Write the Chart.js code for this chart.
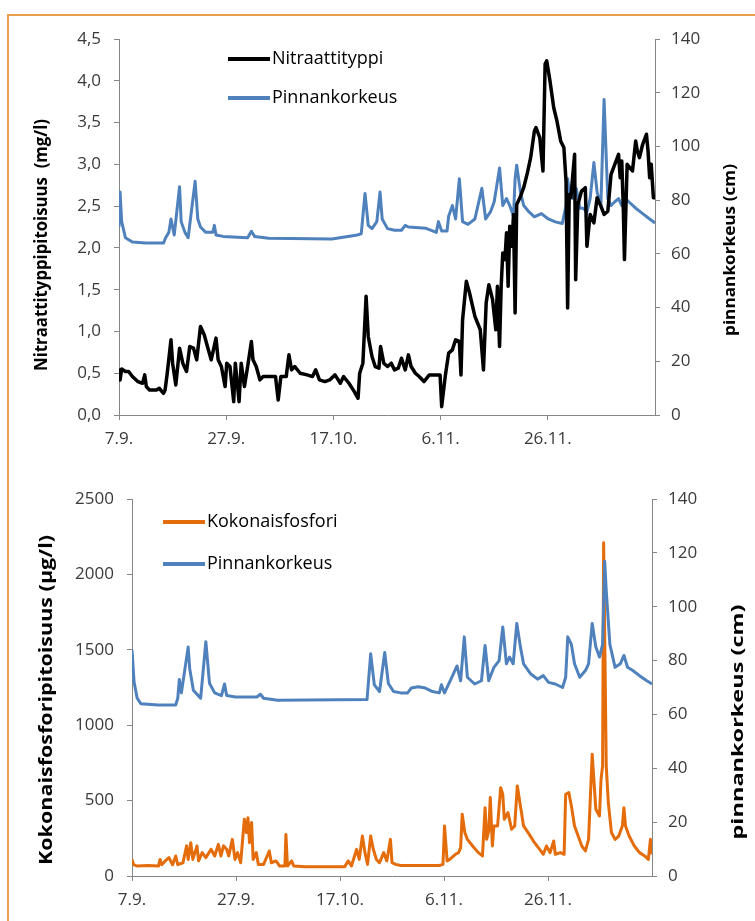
<!DOCTYPE html>
<html>
<head>
<meta charset="utf-8">
<script src="https://cdn.jsdelivr.net/npm/chart.js@4.4.1/dist/chart.umd.min.js"></script>
<style>
  body { margin: 0; background: #fff; }
  #page { position: relative; width: 755px; height: 921px; overflow: hidden; background: #fff; }
  #frame { position: absolute; left: 7px; top: 14px; width: 800px; height: 960px; border: 2px solid #E8A04C; box-sizing: border-box; }
  canvas { position: absolute; left: 0; }
</style>
</head>
<body>
<div id="page">
  <div id="frame"></div>
  <canvas id="nitrateChart" width="755" height="470" style="top:0px"></canvas>
  <canvas id="phosphorusChart" width="755" height="451" style="top:470px"></canvas>
</div>
<script>
// x = days from 7.9.
const xTickDays = [0, 20, 40, 60, 80];
const xTickLabels = ["7.9.", "27.9.", "17.10.", "6.11.", "26.11."];

// Nitraattityppi (mg/l)
const nitrate = [[0,0.56],[0.2,0.42],[0.5,0.55],[1.2,0.52],[1.8,0.52],[2.5,0.46],[3.5,0.4],[4.4,0.38],[4.8,0.48],[5.1,0.34],[5.7,0.3],[7.0,0.3],[7.5,0.32],[8.3,0.26],[8.6,0.3],[9.0,0.5],[9.7,0.9],[10.0,0.62],[10.6,0.36],[11.3,0.8],[11.9,0.62],[12.6,0.52],[13.2,0.82],[13.9,0.8],[14.5,0.66],[15.2,1.06],[15.9,0.96],[16.5,0.82],[17.2,0.66],[18.1,0.92],[18.5,0.66],[19.1,0.58],[19.8,0.34],[20.1,0.62],[20.7,0.58],[21.4,0.16],[21.7,0.62],[22.4,0.16],[22.8,0.62],[23.4,0.34],[24.0,0.58],[24.7,0.88],[25.0,0.66],[25.6,0.58],[26.3,0.42],[26.9,0.46],[27.9,0.46],[29.2,0.46],[29.7,0.18],[30.2,0.46],[31.2,0.46],[31.7,0.72],[32.2,0.54],[32.8,0.58],[33.8,0.5],[35.1,0.48],[36.1,0.46],[36.7,0.54],[37.4,0.42],[38.4,0.4],[39.3,0.42],[40.3,0.48],[41.3,0.38],[41.9,0.46],[42.9,0.38],[43.9,0.28],[44.6,0.2],[44.9,0.5],[45.5,0.62],[46.1,1.42],[46.5,0.94],[47.2,0.7],[47.8,0.58],[48.5,0.56],[48.8,0.82],[49.4,0.62],[50.1,0.58],[50.8,0.62],[51.4,0.54],[52.1,0.56],[52.7,0.68],[53.4,0.54],[54.0,0.72],[54.5,0.58],[55.3,0.5],[56.0,0.46],[56.9,0.4],[57.9,0.48],[59.9,0.48],[60.2,0.1],[60.9,0.48],[61.5,0.74],[62.2,0.78],[62.8,0.9],[63.5,0.88],[63.8,0.48],[64.1,1.14],[64.8,1.6],[65.4,1.46],[66.4,1.18],[67.4,1.02],[68.0,0.54],[68.5,1.34],[69.0,1.56],[69.7,1.38],[70.3,1.02],[70.6,1.54],[71.0,0.82],[71.3,1.54],[71.6,1.94],[72.0,1.86],[72.3,2.18],[72.6,1.54],[72.9,2.26],[73.3,2.02],[73.6,2.4],[73.9,1.22],[74.2,2.52],[74.8,2.6],[75.5,2.72],[76.2,2.9],[76.8,3.08],[77.5,3.4],[77.8,3.44],[78.5,3.32],[79.1,2.92],[79.5,4.2],[79.8,4.24],[80.4,4.0],[81.1,3.68],[81.7,3.52],[82.4,3.28],[83.0,3.2],[83.4,2.8],[83.7,1.28],[84.0,2.64],[84.3,2.6],[85.0,3.12],[85.2,1.62],[85.6,2.52],[86.3,2.68],[87.0,2.72],[87.3,2.02],[87.9,2.4],[88.6,2.3],[89.2,2.6],[89.9,2.5],[90.5,2.4],[91.2,2.44],[91.8,2.88],[92.5,3.0],[93.2,3.12],[93.5,2.84],[93.8,3.04],[94.1,2.44],[94.3,1.86],[94.8,3.0],[95.8,2.92],[96.4,3.28],[96.7,3.16],[97.1,3.08],[97.7,3.24],[98.4,3.36],[98.7,3.16],[99.0,2.84],[99.3,3.0],[99.7,2.6],[100,2.6]];

// Pinnankorkeus (cm), upper chart
const levelTop = [[0,70],[0.2,83],[0.5,72],[1.2,66],[2.5,64.4],[5,64],[8.3,64],[8.7,66],[9.3,68],[9.7,73],[10.3,67],[11.3,85],[11.6,72],[12.3,68],[12.9,66],[14.2,87],[14.7,73],[15.2,70],[16.2,68],[17.5,68],[17.8,70.6],[18.1,67],[19.4,66.5],[24.0,66],[24.7,68.4],[25.3,66.5],[27.9,65.8],[39.7,65.5],[44.2,66.9],[45.2,67.5],[45.9,82.5],[46.5,70.6],[47.2,69.4],[48.1,72],[48.7,83],[49.1,73],[50.1,69.4],[51.4,68.8],[52.7,68.8],[53.4,70.6],[54.0,70],[57.3,69.5],[57.9,69],[59.2,68],[59.6,72],[60.2,68.5],[61.2,68.5],[61.5,74],[62.2,78],[62.8,73],[63.5,88],[64.1,72],[65.1,71],[66.4,73],[67.7,84.4],[68.4,73],[69.3,75.6],[70.0,79.4],[71.0,92],[71.6,78],[72.3,80.6],[72.9,78],[73.6,74],[73.9,88],[74.2,93],[74.9,83],[75.5,78],[76.5,75.6],[77.5,73.8],[78.8,75],[80.1,73],[81.4,71.9],[82.7,71.3],[83.4,78],[83.7,88],[84.0,83],[84.7,80.6],[85.3,84.4],[86.0,77],[86.6,77],[87.3,75.6],[87.9,80.6],[88.6,94],[89.2,83],[89.9,78],[90.5,117.5],[90.9,96],[91.2,80.6],[91.8,78],[92.5,79.4],[93.2,80.6],[93.8,78],[94.5,80.6],[95.1,79.4],[96.4,77],[97.7,75],[99.0,73],[100,71.5]];

// Kokonaisfosfori (µg/l)
const phosphorus = [[0,110],[0.3,75],[1.0,66],[3,70],[5.1,66],[5.4,110],[5.7,75],[6.4,100],[7.1,122],[7.8,75],[8.4,133],[8.8,75],[9.8,88],[10.5,200],[10.8,110],[11.3,221],[11.7,110],[12.5,200],[12.8,100],[13.5,155],[14.2,122],[15.2,177],[15.9,133],[16.6,210],[17.1,133],[17.6,200],[18.2,177],[18.6,133],[19.3,243],[19.8,110],[20.3,155],[20.9,88],[21.6,376],[22.0,288],[22.3,387],[22.6,221],[23.0,354],[23.3,110],[23.9,155],[24.3,77],[25.3,77],[26.4,166],[26.8,88],[27.7,100],[28.4,66],[29.4,66],[29.6,276],[29.9,66],[30.7,100],[31.1,66],[33.4,62],[40.9,62],[41.6,100],[42.2,66],[43.2,177],[43.7,110],[44.3,265],[44.8,155],[45.3,77],[45.9,265],[46.4,177],[47.0,110],[47.6,88],[48.4,155],[49.0,100],[49.7,243],[50.0,88],[50.7,77],[51.7,70],[59.1,70],[59.8,77],[60.1,332],[60.6,100],[61.1,110],[62.2,144],[62.8,155],[63.2,188],[63.5,409],[64.0,288],[64.5,243],[65.5,199],[66.6,155],[67.4,133],[67.9,453],[68.2,243],[68.6,299],[68.9,520],[69.3,199],[69.6,332],[70.3,332],[70.9,586],[71.3,542],[71.6,376],[72.3,420],[73.0,310],[73.6,332],[74.1,597],[74.7,464],[75.3,332],[76.4,276],[77.4,221],[78.4,177],[79.1,144],[79.7,199],[80.4,155],[81.1,232],[81.4,144],[82.4,155],[83.1,144],[83.4,542],[84.0,553],[84.5,464],[85.1,332],[85.8,265],[86.5,199],[87.2,166],[87.8,243],[88.5,807],[89.2,442],[89.9,398],[90.2,641],[90.5,730],[90.7,2210],[91.2,730],[91.6,487],[92.2,288],[92.9,243],[93.6,265],[94.3,332],[94.6,453],[94.9,332],[95.6,265],[96.6,199],[97.6,155],[98.6,133],[99.3,110],[99.7,243],[100,144]];

// Pinnankorkeus (cm), lower chart
const levelBottom = [[0,84],[0.4,72],[1.0,66],[1.7,64],[5,63.5],[8.4,63.5],[8.8,66],[9.1,73],[9.5,68],[10.8,85],[11.1,77],[11.8,69],[13.2,66],[14.2,87],[14.9,71.6],[15.9,68],[17.2,67],[17.8,71.3],[18.2,67],[19.9,66.5],[24.0,66.5],[24.7,67.5],[25.3,66],[28.0,65.3],[45.2,65.5],[45.9,82.5],[46.6,71],[47.6,68.5],[48.6,83],[49.3,71.5],[50.3,68.5],[51.7,68],[53.0,68],[53.7,69.8],[55.1,70.3],[56.4,69.8],[57.8,68.5],[59.1,68],[59.5,71],[60.1,68],[61.5,73.8],[62.5,78],[63.2,72.5],[63.9,88.8],[64.5,73.8],[65.9,71.3],[67.2,72.5],[67.9,85.6],[68.6,72.5],[69.6,77.5],[70.6,80],[71.3,92.5],[72.0,78.8],[72.6,81.3],[73.3,78.8],[74.0,93.8],[74.7,85],[75.3,78.8],[76.7,75],[78.0,73.1],[79.1,74.4],[80.1,71.9],[81.4,71.3],[82.8,70],[83.4,73.8],[83.8,88.8],[84.5,86],[85.1,78.8],[86.1,73.8],[87.2,76.3],[87.8,78.8],[88.5,93.8],[89.2,85],[89.9,81.3],[90.5,86],[90.9,116.9],[91.2,106],[91.9,86],[92.9,77.5],[93.9,78.8],[94.6,81.9],[95.3,77.5],[96.3,76.3],[97.6,74.4],[99.0,72.5],[100,71.3]];

const toXY = (arr) => arr.map(([x, y]) => ({ x, y }));

const axisColor = "#868686";
const tickFont = { family: "'Open Sans'", size: 17 };
const tickColor = "#3a3a3a";

// draws legend as short lines + labels inside the plot
function legendLines(cfg) {
  return {
    id: "legendLines",
    afterDraw(chart) {
      const ctx = chart.ctx;
      chart.data.datasets.forEach((ds, i) => {
        const y = cfg.y[i];
        ctx.save();
        ctx.strokeStyle = ds.borderColor;
        ctx.lineWidth = 4;
        ctx.beginPath();
        ctx.moveTo(cfg.x1, y);
        ctx.lineTo(cfg.x2, y);
        ctx.stroke();
        ctx.fillStyle = "#000";
        ctx.font = "18px 'Open Sans'";
        ctx.textBaseline = "middle";
        ctx.fillText(ds.label, cfg.x2 + 2, y);
        ctx.restore();
      });
    },
  };
}

// rotated axis titles (both read bottom-to-top, like Excel)
function axisTitles(items) {
  return {
    id: "axisTitles",
    afterDraw(chart) {
      const ctx = chart.ctx;
      items.forEach((t) => {
        ctx.save();
        ctx.font = "bold " + t.size + "px 'Open Sans'";
        const w = ctx.measureText(t.text).width;
        ctx.translate(t.x, t.y);
        ctx.rotate(-Math.PI / 2);
        ctx.scale(t.len / w, 1);
        ctx.fillStyle = "#000";
        ctx.textAlign = "center";
        ctx.textBaseline = "middle";
        ctx.fillText(t.text, 0, 0);
        ctx.restore();
      });
    },
  };
}

function makeChart(id, box, leftAxis, rightAxis, datasets, plugins) {
  const canvas = document.getElementById(id);
  const W = canvas.width, H = canvas.height;
  return new Chart(canvas, {
    type: "line",
    data: { datasets },
    options: {
      responsive: false,
      animation: false,
      devicePixelRatio: 1,
      layout: { padding: { top: box.top, left: 0, right: 0, bottom: 0 } },
      elements: { point: { radius: 0 }, line: { tension: 0, borderJoinStyle: "round" } },
      plugins: { legend: { display: false }, tooltip: { enabled: false } },
      scales: {
        x: {
          type: "linear",
          min: 0,
          max: 100,
          afterBuildTicks: (scale) => { scale.ticks = xTickDays.map((v) => ({ value: v })); },
          afterFit: (scale) => { scale.height = H - box.bottom; },
          ticks: {
            font: tickFont,
            color: tickColor,
            padding: 9,
            maxRotation: 0,
            callback: (v) => xTickLabels[xTickDays.indexOf(v)],
          },
          grid: { drawOnChartArea: false, tickLength: 5, color: axisColor },
          border: { color: axisColor },
        },
        y: {
          position: "left",
          min: 0,
          max: leftAxis.max,
          afterFit: (scale) => { scale.width = box.left; },
          ticks: { stepSize: leftAxis.step, font: tickFont, color: tickColor, padding: 13, callback: leftAxis.format },
          grid: { drawOnChartArea: false, tickLength: 5, color: axisColor },
          border: { color: axisColor },
        },
        y1: {
          position: "right",
          min: 0,
          max: rightAxis.max,
          afterFit: (scale) => { scale.width = W - box.right; },
          ticks: { stepSize: rightAxis.step, font: tickFont, color: tickColor, padding: 11, callback: (v) => String(v) },
          grid: { drawOnChartArea: false, tickLength: 5, color: axisColor },
          border: { color: axisColor },
        },
      },
    },
    plugins,
  });
}

makeChart(
  "nitrateChart",
  { left: 119, right: 655, top: 39, bottom: 415 },
  { max: 4.5, step: 0.5, format: (v) => v.toFixed(1).replace(".", ",") },
  { max: 140, step: 20 },
  [
    { label: "Nitraattityppi", data: toXY(nitrate), borderColor: "#000000", borderWidth: 3.5, yAxisID: "y", order: 1 },
    { label: "Pinnankorkeus", data: toXY(levelTop), borderColor: "#4F81BD", borderWidth: 3, yAxisID: "y1", order: 2 },
  ],
  [
    legendLines({ x1: 228, x2: 270, y: [59, 98] }),
    axisTitles([
      { text: "Nitraattityppipitoisuus  (mg/l)", x: 42, y: 245, size: 17, len: 252 },
      { text: "pinnankorkeus (cm)", x: 730, y: 250, size: 16, len: 172 },
    ]),
  ]
);

makeChart(
  "phosphorusChart",
  { left: 132, right: 652, top: 29, bottom: 406 },
  { max: 2500, step: 500, format: (v) => String(v) },
  { max: 140, step: 20 },
  [
    { label: "Kokonaisfosfori", data: toXY(phosphorus), borderColor: "#E46C0A", borderWidth: 3, yAxisID: "y", order: 2 },
    { label: "Pinnankorkeus", data: toXY(levelBottom), borderColor: "#4F81BD", borderWidth: 3, yAxisID: "y1", order: 1 },
  ],
  [
    legendLines({ x1: 163, x2: 205, y: [52, 94] }),
    axisTitles([
      { text: "Kokonaisfosforipitoisuus (µg/l)", x: 47, y: 230, size: 17, len: 330 },
      { text: "pinnankorkeus (cm)", x: 738, y: 252, size: 16, len: 235 },
    ]),
  ]
);
</script>
</body>
</html>
